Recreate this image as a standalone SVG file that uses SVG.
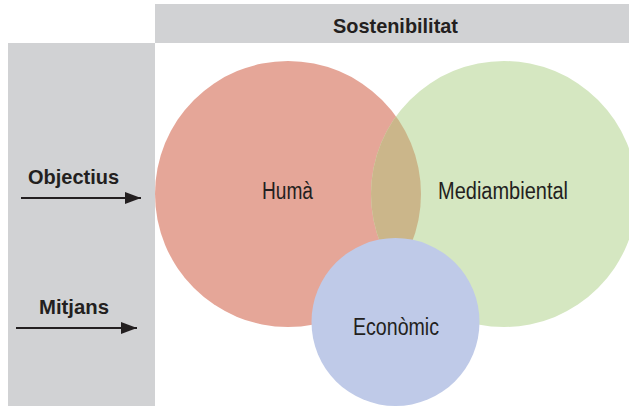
<svg xmlns="http://www.w3.org/2000/svg" width="629" height="406" viewBox="0 0 629 406">
<style>
.panel{fill:#d1d2d4}
.lbl{font-family:"Liberation Sans",Arial,sans-serif;fill:#231f20}
.b{font-weight:bold;font-size:21px}
.r{font-size:23px}
.arrow{stroke:#231f20;stroke-width:2;fill:none}
</style>
<defs>
<marker id="ah" markerWidth="17" markerHeight="13" refX="16" refY="6.5" orient="auto" markerUnits="userSpaceOnUse">
<path d="M0,0.5 L16,6.5 L0,12.5 Z" fill="#231f20"/>
</marker>
<clipPath id="clipRed"><circle cx="288" cy="194" r="133"/></clipPath>
</defs>
<rect class="panel" x="155" y="4" width="474" height="39"/>
<rect class="panel" x="8" y="43" width="147" height="363"/>
<text class="lbl b" x="395.5" y="33" text-anchor="middle" textLength="125" lengthAdjust="spacingAndGlyphs">Sostenibilitat</text>
<g id="humà">
<circle cx="288" cy="194" r="133" fill="#e5a698"/>
</g>
<g id="mediambiental">
<circle cx="504" cy="194" r="133" fill="#d5e7c1"/>
<circle cx="504" cy="194" r="133" fill="#cbb68a" clip-path="url(#clipRed)"/>
</g>
<g id="economic">
<circle cx="395.5" cy="322" r="84" fill="#bfcae8"/>
</g>
<g id="labels">
<text class="lbl r" x="262" y="199" textLength="51" lengthAdjust="spacingAndGlyphs">Humà</text>
<text class="lbl r" x="438" y="199" textLength="130" lengthAdjust="spacingAndGlyphs">Mediambiental</text>
<text class="lbl r" x="353" y="335" textLength="86" lengthAdjust="spacingAndGlyphs">Econòmic</text>
</g>
<g id="objectius">
<text class="lbl b" x="28" y="184" textLength="91" lengthAdjust="spacingAndGlyphs">Objectius</text>
</g>
<g id="mitjans">
<text class="lbl b" x="39" y="314" textLength="70" lengthAdjust="spacingAndGlyphs">Mitjans</text>
</g>
<g id="connectors">
<line class="arrow" x1="21" y1="198" x2="141" y2="198" marker-end="url(#ah)"/>
<line class="arrow" x1="16" y1="328" x2="137" y2="328" marker-end="url(#ah)"/>
</g>
</svg>
